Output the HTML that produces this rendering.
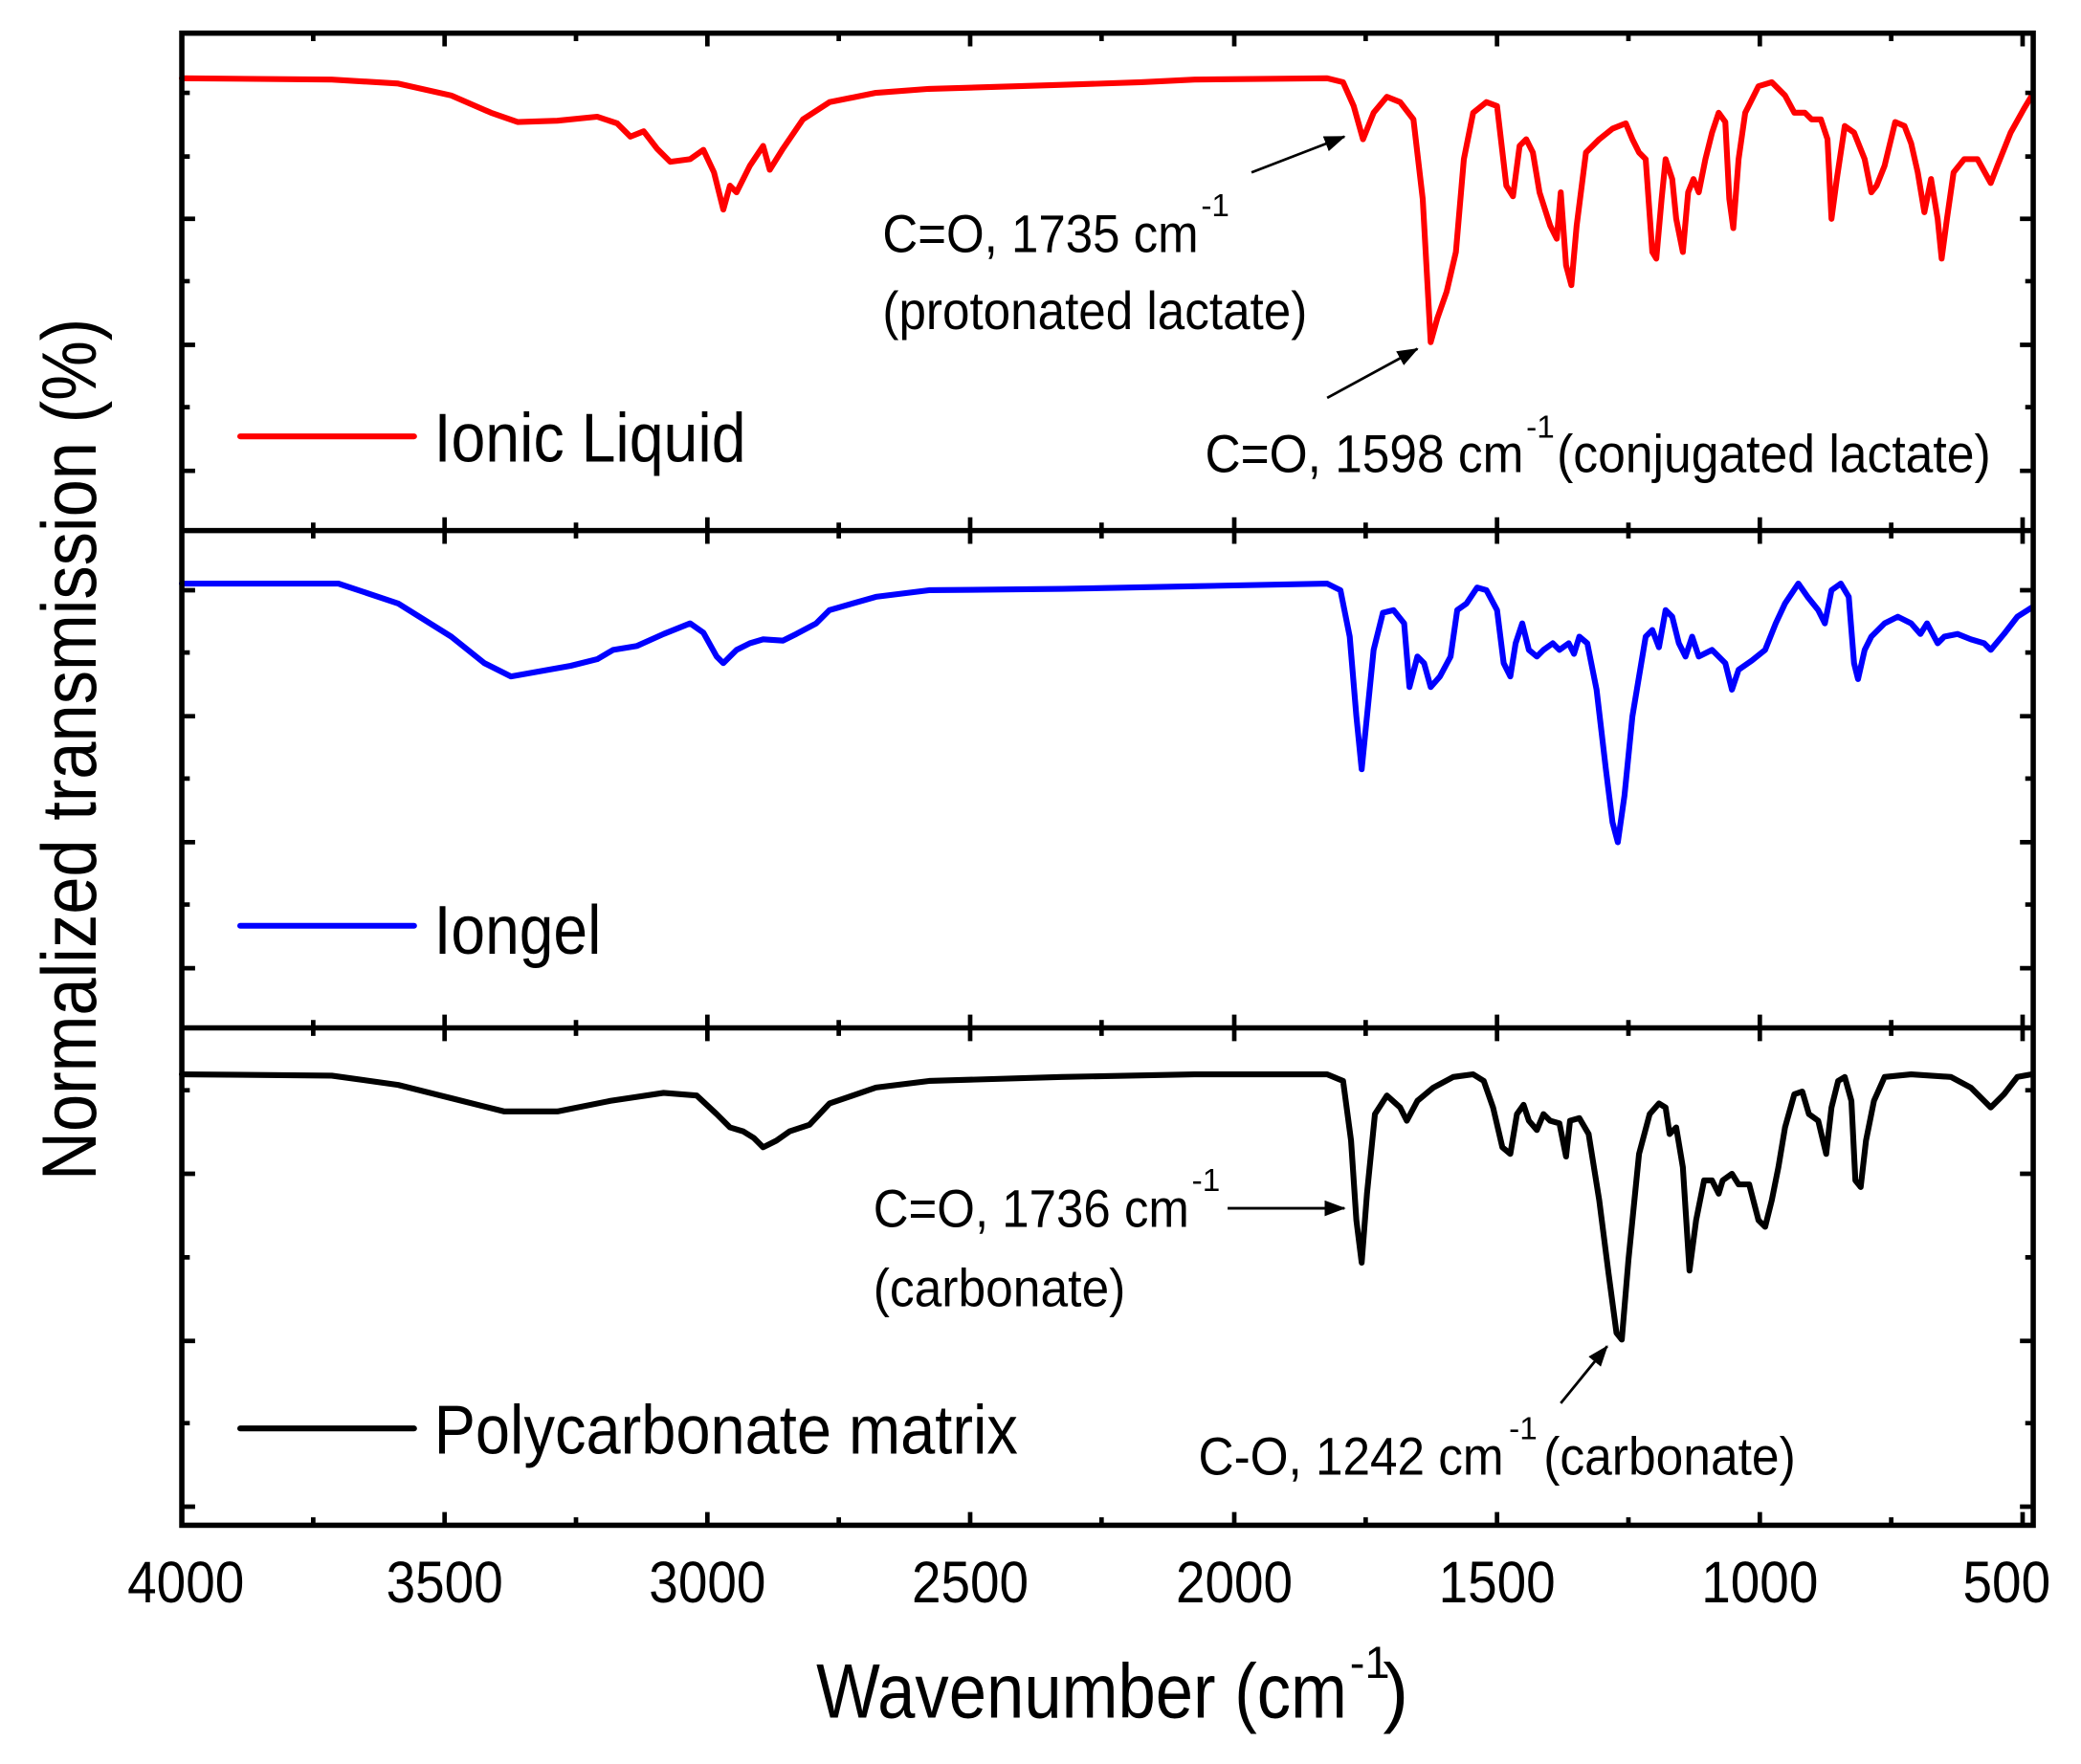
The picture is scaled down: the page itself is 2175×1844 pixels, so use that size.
<!DOCTYPE html>
<html><head><meta charset="utf-8"><style>
html,body{margin:0;padding:0;background:#fff;}
svg{display:block;}
text{font-family:"Liberation Sans",Arial,sans-serif;fill:#000;}
</style></head><body>
<svg width="2175" height="1844" viewBox="0 0 1568 1330" preserveAspectRatio="none" xmlns="http://www.w3.org/2000/svg">
<defs>
<marker id="ah2" markerWidth="16" markerHeight="12" refX="15" refY="6" orient="auto" markerUnits="userSpaceOnUse"><path d="M0,0 L16,6 L0,12 z" fill="#000"/></marker></defs>
<g fill="none" stroke-linejoin="round" stroke-linecap="round" stroke-width="4.4">
<polyline stroke="#ff0000" points="137,59 250,60 300,63 340,72 370,85 390,92 420,91 450,88 465,93 475,103 485,99 495,112 505,122 520,120 530,113 538,130 545,158 550,140 555,145 565,125 575,110 580,128 590,112 605,90 625,77 660,70 700,67 800,64 860,62 900,60 1000,59 1012,62 1020,80 1027,105 1035,85 1045,73 1055,77 1065,90 1072,150 1078,258 1083,240 1090,220 1097,190 1103,120 1110,85 1120,77 1128,80 1135,140 1140,148 1145,110 1150,105 1155,115 1160,145 1168,170 1173,180 1176,145 1180,200 1184,215 1188,170 1195,115 1205,105 1215,97 1225,93 1230,105 1235,115 1240,120 1245,190 1248,195 1252,150 1255,120 1260,135 1263,165 1268,190 1272,145 1276,135 1280,145 1285,120 1290,100 1295,85 1300,92 1303,150 1306,172 1310,120 1315,85 1325,65 1335,62 1345,72 1352,85 1360,85 1365,90 1372,90 1377,105 1380,165 1384,135 1390,95 1397,100 1405,120 1410,145 1414,140 1420,125 1428,92 1435,95 1440,108 1445,130 1450,160 1455,135 1460,165 1463,195 1467,165 1472,130 1480,120 1490,120 1500,138 1505,125 1515,100 1525,82 1531,72"/>
<polyline stroke="#0000ff" points="137,440 255,440 300,455 340,480 365,500 385,510 430,502 450,497 462,490 480,487 500,478 520,470 530,477 540,495 545,500 555,490 565,485 575,482 590,483 600,478 615,470 625,460 660,450 700,445 800,444 900,442 1000,440 1010,445 1017,480 1022,540 1026,580 1030,540 1035,490 1042,462 1050,460 1058,470 1062,518 1068,495 1073,500 1078,518 1085,510 1093,495 1098,460 1105,455 1113,443 1120,445 1128,460 1133,500 1138,510 1142,485 1147,470 1152,490 1158,495 1163,490 1170,485 1175,490 1182,485 1186,493 1190,480 1196,485 1203,520 1210,580 1215,620 1219,635 1224,600 1230,540 1235,510 1240,480 1245,475 1250,488 1255,460 1260,465 1265,485 1270,495 1275,480 1280,495 1290,490 1300,500 1305,520 1310,505 1320,498 1330,490 1338,470 1345,455 1355,440 1362,450 1370,460 1375,470 1380,445 1387,440 1393,450 1397,500 1400,512 1405,490 1410,480 1420,470 1430,465 1440,470 1447,478 1452,470 1460,485 1465,480 1475,478 1485,482 1495,485 1500,490 1510,478 1520,465 1531,458"/>
<polyline stroke="#000" points="137,810 250,811 300,818 340,828 380,838 420,838 460,830 500,824 525,826 540,840 550,850 560,853 568,858 575,865 585,860 595,853 610,848 625,832 660,820 700,815 800,812 900,810 1000,810 1012,815 1018,860 1022,920 1026,952 1030,900 1036,840 1045,826 1055,835 1060,845 1068,830 1080,820 1095,812 1110,810 1118,815 1125,835 1132,865 1138,870 1143,840 1148,833 1152,845 1158,852 1163,840 1168,845 1175,847 1180,872 1183,845 1190,843 1197,855 1205,905 1212,960 1218,1005 1222,1010 1227,950 1235,870 1243,840 1250,832 1255,835 1258,855 1263,850 1268,880 1273,958 1278,920 1284,890 1290,890 1295,900 1298,890 1305,885 1310,893 1318,893 1325,920 1330,925 1335,905 1340,880 1345,850 1352,825 1358,823 1363,840 1370,845 1376,870 1380,835 1385,815 1390,812 1395,830 1398,890 1402,895 1406,860 1412,830 1420,812 1440,810 1470,812 1485,820 1495,830 1500,835 1510,825 1520,812 1531,810"/>
<line x1="181" y1="329" x2="312" y2="329" stroke="#ff0000"/>
<line x1="181" y1="698" x2="312" y2="698" stroke="#0000ff"/>
<line x1="181" y1="1077" x2="312" y2="1077" stroke="#000"/>
</g>
<g stroke="#000" stroke-width="4" fill="none">
<rect x="137" y="25" width="1395" height="1125"/>
<line x1="137" y1="400" x2="1532" y2="400"/>
<line x1="137" y1="775" x2="1532" y2="775"/>
</g>
<g stroke="#000" stroke-width="3.4">
<path d="M137,25v10M236,25v6M335,25v10M434,25v6M533,25v10M632,25v6M731,25v10M830,25v6M930,25v10M1029,25v6M1128,25v10M1227,25v6M1326,25v10M1425,25v6M1524,25v10"/>
<path d="M137,400v10M236,400v6M335,400v10M434,400v6M533,400v10M632,400v6M731,400v10M830,400v6M930,400v10M1029,400v6M1128,400v10M1227,400v6M1326,400v10M1425,400v6M1524,400v10"/>
<path d="M137,775v10M236,775v6M335,775v10M434,775v6M533,775v10M632,775v6M731,775v10M830,775v6M930,775v10M1029,775v6M1128,775v10M1227,775v6M1326,775v10M1425,775v6M1524,775v10"/>
<path d="M137,1150v-10M236,1150v-6M335,1150v-10M434,1150v-6M533,1150v-10M632,1150v-6M731,1150v-10M830,1150v-6M930,1150v-10M1029,1150v-6M1128,1150v-10M1227,1150v-6M1326,1150v-10M1425,1150v-6M1524,1150v-10"/>
<path d="M137,400v-10M236,400v-6M335,400v-10M434,400v-6M533,400v-10M632,400v-6M731,400v-10M830,400v-6M930,400v-10M1029,400v-6M1128,400v-10M1227,400v-6M1326,400v-10M1425,400v-6M1524,400v-10"/>
<path d="M137,775v-10M236,775v-6M335,775v-10M434,775v-6M533,775v-10M632,775v-6M731,775v-10M830,775v-6M930,775v-10M1029,775v-6M1128,775v-10M1227,775v-6M1326,775v-10M1425,775v-6M1524,775v-10"/>
<path d="M137,70h6M137,118h6M137,165h10M137,212h6M137,260h10M137,307h6M137,355h10M137,445h10M137,492h6M137,540h10M137,587h6M137,635h10M137,682h6M137,730h10M137,822h6M137,885h10M137,948h6M137,1011h10M137,1073h6M137,1136h10"/>
<path d="M1532,70h-6M1532,118h-6M1532,165h-10M1532,212h-6M1532,260h-10M1532,307h-6M1532,355h-10M1532,445h-10M1532,492h-6M1532,540h-10M1532,587h-6M1532,635h-10M1532,682h-6M1532,730h-10M1532,822h-6M1532,885h-10M1532,948h-6M1532,1011h-10M1532,1073h-6M1532,1136h-10"/>
</g>
<g font-size="44" text-anchor="middle">
<text x="140" y="1208" textLength="88" lengthAdjust="spacingAndGlyphs">4000</text>
<text x="335" y="1208" textLength="88" lengthAdjust="spacingAndGlyphs">3500</text>
<text x="533" y="1208" textLength="88" lengthAdjust="spacingAndGlyphs">3000</text>
<text x="731" y="1208" textLength="88" lengthAdjust="spacingAndGlyphs">2500</text>
<text x="930" y="1208" textLength="88" lengthAdjust="spacingAndGlyphs">2000</text>
<text x="1128" y="1208" textLength="88" lengthAdjust="spacingAndGlyphs">1500</text>
<text x="1326" y="1208" textLength="88" lengthAdjust="spacingAndGlyphs">1000</text>
<text x="1512" y="1208" textLength="66" lengthAdjust="spacingAndGlyphs">500</text>
</g>
<text x="615" y="1295" font-size="58" textLength="400" lengthAdjust="spacingAndGlyphs">Wavenumber (cm</text>
<text x="1017" y="1265" font-size="34">-1</text>
<text x="1042" y="1295" font-size="58">)</text>
<text transform="translate(72,890) rotate(-90)" font-size="58" textLength="650" lengthAdjust="spacingAndGlyphs">Normalized transmission (%)</text>
<g font-size="52">
<text x="327" y="348" textLength="235" lengthAdjust="spacingAndGlyphs">Ionic Liquid</text>
<text x="327" y="719" textLength="126" lengthAdjust="spacingAndGlyphs">Iongel</text>
<text x="327" y="1096" textLength="440" lengthAdjust="spacingAndGlyphs">Polycarbonate matrix</text>
</g>
<g font-size="40">
<text x="665" y="190" textLength="238" lengthAdjust="spacingAndGlyphs">C=O, 1735 cm</text>
<text x="905" y="163" font-size="24">-1</text>
<text x="665" y="248" textLength="320" lengthAdjust="spacingAndGlyphs">(protonated lactate)</text>
<text x="908" y="356" textLength="240" lengthAdjust="spacingAndGlyphs">C=O, 1598 cm</text>
<text x="1150" y="330" font-size="24">-1</text>
<text x="1173" y="356" textLength="327" lengthAdjust="spacingAndGlyphs">(conjugated lactate)</text>
<text x="658" y="925" textLength="238" lengthAdjust="spacingAndGlyphs">C=O, 1736 cm</text>
<text x="898" y="898" font-size="24">-1</text>
<text x="658" y="985" textLength="190" lengthAdjust="spacingAndGlyphs">(carbonate)</text>
<text x="903" y="1112" textLength="230" lengthAdjust="spacingAndGlyphs">C-O, 1242 cm</text>
<text x="1137" y="1085" font-size="24">-1</text>
<text x="1163" y="1112" textLength="190" lengthAdjust="spacingAndGlyphs">(carbonate)</text>
</g>
<g stroke="#000" stroke-width="2">
<line x1="943" y1="130" x2="1013" y2="103" marker-end="url(#ah2)"/>
<line x1="1000" y1="300" x2="1068" y2="263" marker-end="url(#ah2)"/>
<line x1="925" y1="911" x2="1013" y2="911" marker-end="url(#ah2)"/>
<line x1="1176" y1="1058" x2="1211" y2="1015" marker-end="url(#ah2)"/>
</g>
</svg>
</body></html>
